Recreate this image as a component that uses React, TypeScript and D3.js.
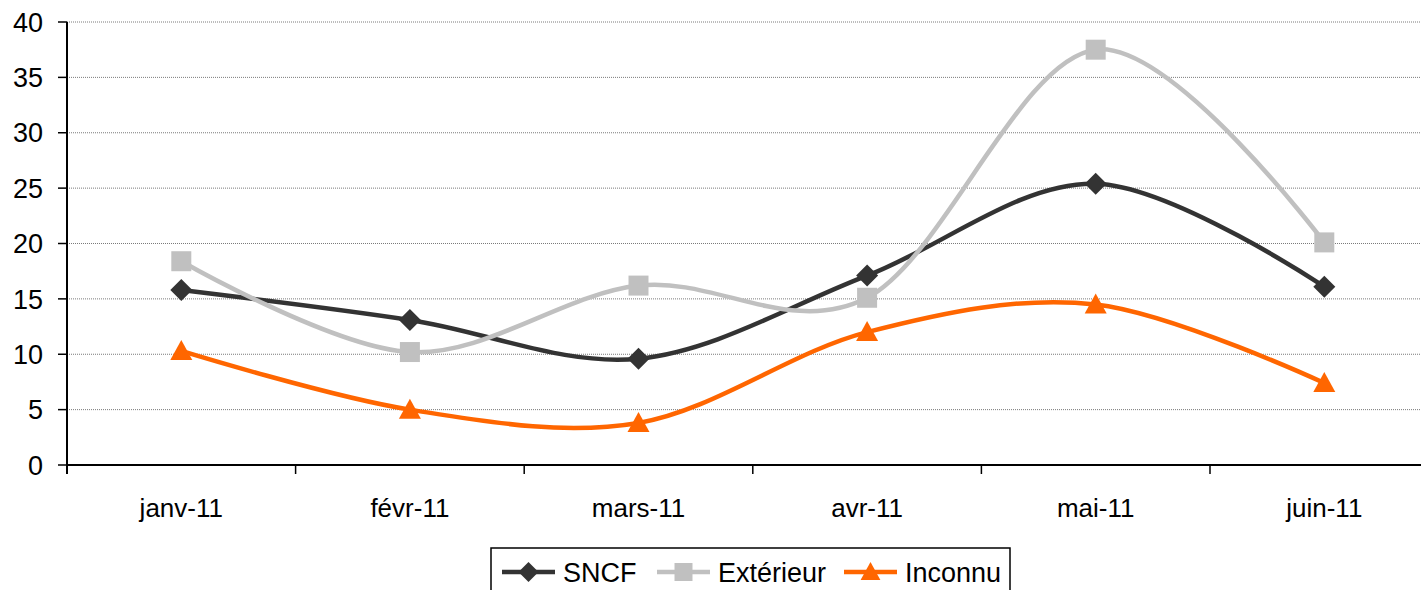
import React, { useEffect, useRef } from 'react';
import * as d3 from 'd3';

const months = ['janv-11', 'févr-11', 'mars-11', 'avr-11', 'mai-11', 'juin-11'];
const sncf = [15.8, 13.1, 9.6, 17.1, 25.4, 16.1];
const exterieur = [18.4, 10.2, 16.2, 15.1, 37.5, 20.1];
const inconnu = [10.3, 5.0, 3.8, 12.0, 14.5, 7.4];
const yTicks = [0, 5, 10, 15, 20, 25, 30, 35, 40];

const series = [
  { name: 'SNCF', values: sncf, color: '#333333', marker: 'diamond' },
  { name: 'Extérieur', values: exterieur, color: '#c0c0c0', marker: 'square' },
  { name: 'Inconnu', values: inconnu, color: '#ff6600', marker: 'triangle' },
];

const W = 1421;
const H = 590;
const FONT = '"Liberation Sans", Arial, sans-serif';

const App: React.FC = () => {
  const svgRef = useRef<SVGSVGElement>(null);

  useEffect(() => {
    if (!svgRef.current) return;
    const svg = d3.select(svgRef.current);
    svg.selectAll('*').remove();

    const left = 67;
    const top = 22;
    const bottom = 465;
    const band = 228.6;

    const x = d3.scaleBand<string>()
      .domain(months)
      .range([left, left + band * months.length]);
    const y = d3.scaleLinear().domain([0, 40]).range([bottom, top]);
    const cx = (m: string) => (x(m) as number) + x.bandwidth() / 2;

    // gridlines
    svg.append('g')
      .selectAll('line')
      .data(yTicks.filter(t => t > 0))
      .enter().append('line')
      .attr('x1', left).attr('x2', W)
      .attr('y1', d => y(d)).attr('y2', d => y(d))
      .attr('stroke', '#7a7a7a')
      .attr('stroke-width', 1)
      .attr('stroke-dasharray', '1,1');

    // y axis
    const yAxis = svg.append('g');
    yAxis.append('line')
      .attr('x1', left).attr('x2', left)
      .attr('y1', top).attr('y2', bottom + 9)
      .attr('stroke', '#000').attr('stroke-width', 2);
    yAxis.selectAll('.tick')
      .data(yTicks)
      .enter().append('line')
      .attr('x1', left - 9).attr('x2', left)
      .attr('y1', d => y(d)).attr('y2', d => y(d))
      .attr('stroke', '#000').attr('stroke-width', 1.5);
    yAxis.selectAll('text')
      .data(yTicks)
      .enter().append('text')
      .attr('x', 43)
      .attr('y', d => y(d))
      .attr('dy', '0.36em')
      .attr('text-anchor', 'end')
      .attr('font-family', FONT)
      .attr('font-size', 27)
      .attr('fill', '#000')
      .text(d => d);

    // x axis
    const xAxis = svg.append('g');
    xAxis.append('line')
      .attr('x1', left).attr('x2', W)
      .attr('y1', bottom).attr('y2', bottom)
      .attr('stroke', '#000').attr('stroke-width', 2);
    xAxis.selectAll('.tick')
      .data(months.map((m, i) => i).concat([months.length]))
      .enter().append('line')
      .attr('x1', i => left + i * x.bandwidth())
      .attr('x2', i => left + i * x.bandwidth())
      .attr('y1', bottom).attr('y2', bottom + 9)
      .attr('stroke', '#000').attr('stroke-width', 1.5);
    xAxis.selectAll('text')
      .data(months)
      .enter().append('text')
      .attr('x', d => cx(d))
      .attr('y', 517)
      .attr('text-anchor', 'middle')
      .attr('font-family', FONT)
      .attr('font-size', 26)
      .attr('fill', '#000')
      .text(d => d);

    const markerPath = (kind: string, s: number) => {
      if (kind === 'diamond') return `M0,${-s}L${s},0L0,${s}L${-s},0Z`;
      if (kind === 'square') return `M${-s},${-s}H${s}V${s}H${-s}Z`;
      return `M0,${-s * 1.1}L${s * 1.1},${s * 0.9}L${-s * 1.1},${s * 0.9}Z`;
    };
    const markerSize: Record<string, number> = { diamond: 11, square: 10, triangle: 10 };

    const line = d3.line<number>()
      .x((_, i) => cx(months[i]))
      .y(d => y(d))
      .curve(d3.curveCatmullRom.alpha(0));

    series.forEach(s => {
      svg.append('path')
        .datum(s.values)
        .attr('fill', 'none')
        .attr('stroke', s.color)
        .attr('stroke-width', 4.5)
        .attr('stroke-linejoin', 'round')
        .attr('d', line);
    });

    series.forEach(s => {
      svg.append('g')
        .selectAll('path')
        .data(s.values)
        .enter().append('path')
        .attr('transform', (d, i) => `translate(${cx(months[i])},${y(d)})`)
        .attr('d', markerPath(s.marker, markerSize[s.marker]))
        .attr('fill', s.color);
    });

    // legend
    const legend = svg.append('g');
    legend.append('rect')
      .attr('x', 491).attr('y', 548)
      .attr('width', 519).attr('height', 60)
      .attr('fill', '#fff')
      .attr('stroke', '#000').attr('stroke-width', 1.5);
    const legendX = [502, 657, 844];
    series.forEach((s, i) => {
      const g = legend.append('g').attr('transform', `translate(${legendX[i]},572)`);
      g.append('line')
        .attr('x1', 0).attr('x2', 53)
        .attr('stroke', s.color).attr('stroke-width', 4.5);
      g.append('path')
        .attr('transform', 'translate(26.5,0)')
        .attr('d', markerPath(s.marker, markerSize[s.marker] - 1))
        .attr('fill', s.color);
      g.append('text')
        .attr('x', 61)
        .attr('dy', '0.36em')
        .attr('font-family', FONT)
        .attr('font-size', 27)
        .attr('fill', '#000')
        .text(s.name);
    });
  }, []);

  return (
    <div style={{ position: 'absolute', left: 0, top: 0, width: W, height: H, background: '#fff' }}>
      <svg ref={svgRef} width={W} height={H} style={{ display: 'block' }} />
    </div>
  );
};

export default App;
